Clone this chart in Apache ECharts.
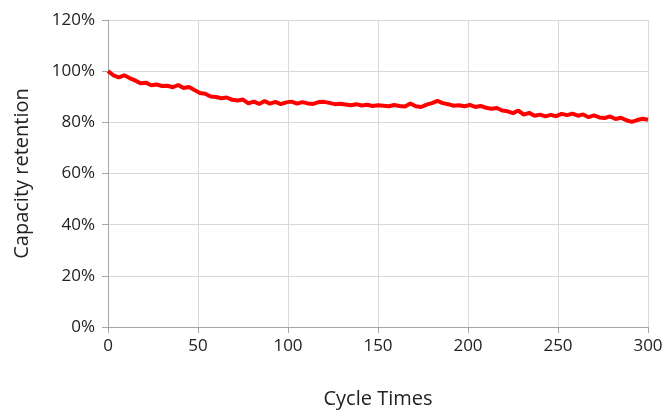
<!DOCTYPE html>
<html>
<head>
<meta charset="utf-8">
<script src="https://cdn.jsdelivr.net/npm/echarts@6/dist/echarts.min.js"></script>
<style>html,body{margin:0;padding:0;background:#fff}#c{width:662px;height:412px}</style>
</head>
<body>
<div id="c"></div>
<script>
const cycles = [];
for (let i = 0; i <= 300; i += 3) cycles.push(i);
const retention = [
100.0,98.4,97.6,98.4,97.3,96.4,95.3,95.5,94.5,94.8,
94.2,94.3,93.7,94.6,93.4,93.8,92.6,91.5,91.2,90.1,
89.9,89.4,89.7,88.8,88.5,88.9,87.4,88.1,87.2,88.3,
87.3,88.0,87.1,87.8,88.1,87.3,87.9,87.4,87.2,87.9,
88.0,87.6,87.1,87.3,87.0,86.7,87.1,86.6,86.9,86.4,
86.7,86.5,86.3,86.8,86.4,86.2,87.4,86.3,86.0,86.9,
87.5,88.4,87.5,87.1,86.5,86.7,86.3,86.8,86.0,86.4,
85.7,85.3,85.6,84.6,84.3,83.6,84.6,83.0,83.7,82.6,
83.0,82.3,82.9,82.4,83.3,82.8,83.4,82.6,83.1,82.0,
82.7,81.9,81.7,82.3,81.3,81.8,80.8,80.2,80.9,81.4,
81.0
];
const xTicks = [0,50,100,150,200,250,300];
const yTicks = [0,20,40,60,80,100,120];

const chart = echarts.init(document.getElementById('c'), null, {renderer:'canvas'});
const font = '"Open Sans", "Noto Sans", sans-serif';
chart.setOption({
  animation:false,
  backgroundColor:'#fff',
  grid:{left:108,right:14,top:20,bottom:85,containLabel:false,outerBoundsMode:'none'},
  xAxis:{
    type:'value', min:xTicks[0], max:xTicks[xTicks.length-1], interval:50,
    name:'Cycle Times', nameLocation:'middle', nameGap:62,
    nameTextStyle:{fontSize:20,color:'#222',fontFamily:font},
    axisLine:{show:true,lineStyle:{color:'#a6a6a6',width:1}},
    axisTick:{show:true,length:6,lineStyle:{color:'#a6a6a6'}},
    axisLabel:{fontSize:17,color:'#222',fontFamily:font,margin:11},
    splitLine:{show:true,lineStyle:{color:'#d9d9d9',width:1}}
  },
  yAxis:{
    type:'value', min:yTicks[0], max:yTicks[yTicks.length-1], interval:20,
    name:'Capacity retention', nameLocation:'middle', nameGap:76,
    nameTextStyle:{fontSize:20,color:'#222',fontFamily:font},
    axisLine:{show:true,lineStyle:{color:'#a6a6a6',width:1}},
    axisTick:{show:true,length:6,lineStyle:{color:'#a6a6a6'}},
    axisLabel:{fontSize:17,color:'#222',fontFamily:font,margin:13,formatter:'{value}%'},
    splitLine:{show:true,lineStyle:{color:'#d9d9d9',width:1}}
  },
  series:[{
    type:'line',
    data:cycles.map((c,i)=>[c,retention[i]]),
    showSymbol:false,
    lineStyle:{color:'#ff0000',width:4},
    itemStyle:{color:'#ff0000'}
  }]
});
</script>
</body>
</html>
